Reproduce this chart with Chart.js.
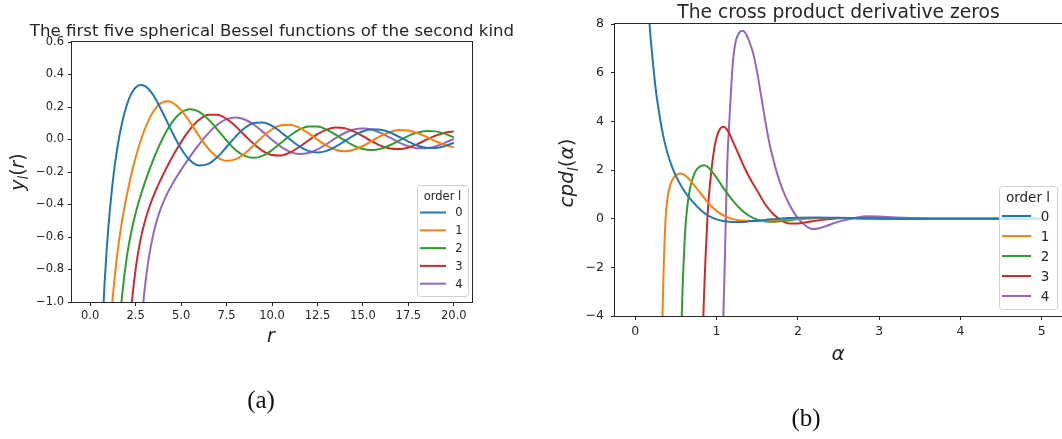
<!DOCTYPE html>
<html>
<head>
<meta charset="utf-8">
<title>Spherical Bessel functions</title>
<script src="https://cdn.jsdelivr.net/npm/chart.js@4.4.1/dist/chart.umd.min.js"></script>
<style>
  html, body { margin: 0; padding: 0; background: #fff; overflow: hidden; }
  body { width: 1062px; height: 439px; position: relative; }
  .panel { position: absolute; top: 0; height: 439px; }
  #leftPanel { left: 0; width: 544px; }
  #rightPanel { left: 540px; width: 597px; }
  .caption {
    position: absolute; transform: translate(-50%, -50%);
    font-family: "Liberation Serif", "DejaVu Serif", serif; font-size: 25px; color: #111;
  }
</style>
</head>
<body>
<div class="panel" id="leftPanel"><canvas id="besselChart"></canvas></div>
<div class="panel" id="rightPanel"><canvas id="cpdChart"></canvas></div>
<div class="caption" style="left:261px; top:400px">(a)</div>
<div class="caption" style="left:806px; top:418px">(b)</div>

<script>
const orders = ["0", "1", "2", "3", "4"];
const colors = ["#1f77b4", "#ff7f0e", "#2ca02c", "#d62728", "#9467bd"];

// Left panel: y_l(r)
const rTail = [6.5, 7.0, 7.5, 8.0, 8.5, 9.0, 9.5, 10.0, 10.5, 11.0, 11.5, 12.0, 12.5, 13.0,
  13.5, 14.0, 14.5, 15.0, 15.5, 16.0, 16.5, 17.0, 17.5, 18.0, 18.5, 19.0, 19.5, 20.0];

const rHead0 = [0.7, 0.75, 0.8, 0.9, 1.0, 1.25, 1.5, 1.75, 2.0, 2.25, 2.5, 2.75, 3.0, 3.25, 3.5, 4.0, 4.5, 5.0, 5.5, 6.0];
const y0 = [-1.093, -0.976, -0.871, -0.691, -0.540, -0.252, -0.047, 0.102, 0.208, 0.279, 0.320, 0.336, 0.330, 0.306, 0.268, 0.163, 0.047, -0.057, -0.129, -0.160,
  -0.150, -0.108, -0.046, 0.018, 0.071, 0.101, 0.105, 0.084, 0.045, 0.000, -0.042, -0.070, -0.080, -0.070,
  -0.044, -0.010, 0.025, 0.051, 0.063, 0.060, 0.043, 0.016, -0.013, -0.037, -0.051, -0.052, -0.041, -0.020];

const rHead1 = [1.0, 1.1, 1.25, 1.5, 1.75, 2.0, 2.25, 2.5, 2.75, 3.0, 3.25, 3.5, 3.75, 4.0, 4.25, 4.5, 5.0, 5.5, 6.0];
const y1 = [-1.382, -1.185, -0.961, -0.696, -0.504, -0.351, -0.222, -0.111, -0.017, 0.063, 0.127, 0.177, 0.211, 0.230, 0.235, 0.228, 0.181, 0.105, 0.020,
  -0.056, -0.109, -0.131, -0.121, -0.086, -0.035, 0.019, 0.063, 0.088, 0.091, 0.072, 0.039, -0.001, -0.038,
  -0.063, -0.072, -0.063, -0.040, -0.009, 0.022, 0.046, 0.058, 0.055, 0.040, 0.016, -0.011, -0.033, -0.047];

const rHead2 = [1.5, 1.6, 1.75, 2.0, 2.25, 2.5, 2.75, 3.0, 3.25, 3.5, 3.75, 4.0, 4.25, 4.5, 4.75, 5.0, 5.25, 5.5, 5.75, 6.0];
const y2 = [-1.346, -1.168, -0.966, -0.734, -0.575, -0.454, -0.354, -0.267, -0.188, -0.116, -0.050, 0.009, 0.061, 0.105, 0.140, 0.165, 0.181, 0.186, 0.182, 0.170,
  0.124, 0.061, -0.006, -0.064, -0.101, -0.113, -0.099, -0.065, -0.020, 0.025, 0.061, 0.080, 0.080, 0.061,
  0.030, -0.006, -0.038, -0.059, -0.065, -0.056, -0.034, -0.006, 0.022, 0.043, 0.053, 0.050, 0.036, 0.013];

const rHead3 = [2.0, 2.15, 2.3, 2.5, 2.75, 3.0, 3.25, 3.5, 3.75, 4.0, 4.25, 4.5, 4.75, 5.0, 5.25, 5.5, 5.75, 6.0];
const y3 = [-1.484, -1.200, -0.994, -0.796, -0.627, -0.508, -0.417, -0.343, -0.278, -0.219, -0.163, -0.111, -0.062, -0.016, 0.027, 0.064, 0.096, 0.122,
  0.152, 0.153, 0.127, 0.082, 0.026, -0.028, -0.071, -0.095, -0.098, -0.079, -0.046, -0.006, 0.033, 0.061,
  0.074, 0.070, 0.050, 0.021, -0.012, -0.039, -0.056, -0.059, -0.049, -0.028, -0.001, 0.024, 0.042, 0.050];

const rHead4 = [2.5, 2.75, 2.9, 3.0, 3.25, 3.5, 3.75, 4.0, 4.25, 4.5, 4.75, 5.0, 5.25, 5.5, 5.75, 6.0];
const y4 = [-1.776, -1.243, -1.030, -0.918, -0.710, -0.569, -0.468, -0.392, -0.330, -0.278, -0.231, -0.187, -0.145, -0.104, -0.065, -0.028,
  0.039, 0.092, 0.125, 0.135, 0.123, 0.091, 0.047, -0.002, -0.045, -0.076, -0.089, -0.083, -0.061, -0.028,
  0.008, 0.040, 0.062, 0.068, 0.060, 0.039, 0.011, -0.019, -0.041, -0.054, -0.054, -0.042, -0.021, 0.004];

// Right panel: cpd_l(alpha)
const a0 = [0.15, 0.175, 0.2, 0.25, 0.3, 0.35, 0.4, 0.45, 0.5, 0.6, 0.7, 0.8, 0.9, 1.0, 1.1, 1.2, 1.3, 1.4, 1.6, 1.8, 2.0, 2.2, 2.5, 2.8, 3.2, 4.0, 5.0];
const c0 = [9.5, 8.0, 7.0, 5.35, 4.2, 3.3, 2.65, 2.15, 1.75, 1.15, 0.72, 0.37, 0.12, -0.03, -0.11, -0.14, -0.14, -0.11, -0.05, 0.01, 0.04, 0.05, 0.04, 0.02, 0.0, 0.0, 0.0];

const a1 = [0.33, 0.34, 0.35, 0.36, 0.37, 0.38, 0.40, 0.43, 0.46, 0.50, 0.55, 0.60, 0.65, 0.70, 0.75, 0.80, 0.90, 1.00, 1.10, 1.20, 1.30, 1.45, 1.60, 1.80, 2.0, 2.3, 2.6, 3.0, 3.5, 5.0];
const c1 = [-4.6, -3.2, -1.9, -0.9, -0.15, 0.35, 0.95, 1.38, 1.62, 1.78, 1.86, 1.81, 1.67, 1.48, 1.27, 1.06, 0.64, 0.32, 0.11, -0.02, -0.08, -0.10, -0.08, -0.03, 0.01, 0.03, 0.02, 0.01, 0.0, 0.0];

const a2 = [0.565, 0.58, 0.60, 0.62, 0.64, 0.67, 0.70, 0.75, 0.80, 0.85, 0.90, 0.95, 1.00, 1.10, 1.20, 1.30, 1.40, 1.50, 1.60, 1.70, 1.85, 2.0, 2.2, 2.5, 2.8, 3.2, 5.0];
const c2 = [-4.8, -3.0, -1.4, -0.2, 0.5, 1.2, 1.6, 2.0, 2.16, 2.2, 2.1, 1.9, 1.68, 1.18, 0.74, 0.38, 0.12, -0.04, -0.12, -0.13, -0.08, -0.02, 0.02, 0.03, 0.01, 0.0, 0.0];

const a3 = [0.83, 0.845, 0.86, 0.875, 0.89, 0.91, 0.94, 0.97, 1.00, 1.04, 1.08, 1.12, 1.16, 1.20, 1.25, 1.30, 1.35, 1.40, 1.45, 1.50, 1.60, 1.70, 1.80, 1.90, 2.00, 2.10, 2.25, 2.40, 2.60, 2.80, 3.20, 3.60, 5.0];
const c3 = [-4.8, -3.2, -1.9, -0.8, 0.2, 1.1, 2.1, 2.85, 3.35, 3.68, 3.78, 3.70, 3.48, 3.18, 2.80, 2.42, 2.05, 1.72, 1.42, 1.15, 0.58, 0.18, -0.08, -0.20, -0.20, -0.15, -0.07, -0.01, 0.03, 0.03, 0.01, 0.0, 0.0];

const a4 = [1.075, 1.09, 1.10, 1.11, 1.12, 1.135, 1.15, 1.17, 1.20, 1.23, 1.27, 1.32, 1.36, 1.40, 1.45, 1.50, 1.55, 1.60, 1.65, 1.70, 1.75, 1.80, 1.90, 2.00, 2.10, 2.17, 2.25, 2.35, 2.45, 2.55, 2.70, 2.85, 3.00, 3.20, 3.50, 4.00, 5.0];
const c4 = [-5.0, -3.2, -1.9, -0.5, 0.9, 2.6, 3.6, 4.8, 6.4, 7.2, 7.6, 7.72, 7.6, 7.3, 6.8, 6.0, 5.0, 4.0, 3.1, 2.4, 1.8, 1.3, 0.55, 0.02, -0.3, -0.42, -0.4, -0.3, -0.18, -0.08, 0.03, 0.1, 0.09, 0.05, 0.01, 0.0, 0.0];

const INK = "#262626";
const FONT = "DejaVu Sans";

function points(xs, ys) {
  return xs.map((x, i) => ({ x: x, y: ys[i] }));
}

function makeDatasets(xLists, yLists, width) {
  return orders.map((label, i) => ({
    label: label,
    data: points(xLists[i], yLists[i]),
    borderColor: colors[i],
    backgroundColor: colors[i],
    borderWidth: width,
    pointRadius: 0,
    fill: false,
    cubicInterpolationMode: "monotone"
  }));
}

function minusSign(v, digits) {
  let s = Math.abs(v) < 1e-9 ? (0).toFixed(digits) : v.toFixed(digits);
  return s.replace("-", "\u2212");
}

function linearAxis(min, max, step, fitSize, isX, fontSize, digits, pad) {
  return {
    type: "linear",
    min: min,
    max: max,
    afterFit: s => { if (isX) s.height = fitSize; else s.width = fitSize; },
    border: { display: false },
    grid: { display: true, drawOnChartArea: false, drawTicks: true, tickLength: 4, tickColor: INK, tickWidth: 1 },
    ticks: {
      stepSize: step,
      includeBounds: false,
      autoSkip: false,
      maxRotation: 0,
      padding: pad,
      color: INK,
      font: { family: FONT, size: fontSize },
      callback: v => minusSign(v, digits)
    }
  };
}

// draw "y_l(r)" style labels: parts with italic / subscript flags
function drawMath(ctx, parts, size, cx, cy, rotate) {
  const fontOf = p => `${p.it ? "italic " : ""}${p.sub ? size * 0.7 : size}px "${FONT}"`;
  let total = 0;
  parts.forEach(p => { ctx.font = fontOf(p); p.w = ctx.measureText(p.t).width; total += p.w; });
  ctx.save();
  ctx.translate(cx, cy);
  if (rotate) ctx.rotate(-Math.PI / 2);
  ctx.fillStyle = INK;
  ctx.textBaseline = "alphabetic";
  ctx.textAlign = "left";
  let x = -total / 2;
  const base = size * 0.32;
  parts.forEach(p => {
    ctx.font = fontOf(p);
    ctx.fillText(p.t, x, p.sub ? base + size * 0.22 : base);
    x += p.w;
  });
  ctx.restore();
}

function drawLegend(chart, o) {
  const ctx = chart.ctx, a = chart.chartArea;
  const x = a.right - o.padR - o.w, y = a.bottom - o.padB - o.h;
  ctx.save();
  ctx.beginPath();
  ctx.roundRect(x + 0.5, y + 0.5, o.w, o.h, 3);
  ctx.fillStyle = "rgba(255,255,255,0.8)";
  ctx.fill();
  ctx.strokeStyle = "#d0d0d0";
  ctx.lineWidth = 1;
  ctx.stroke();
  ctx.font = `${o.size}px "${FONT}"`;
  ctx.textBaseline = "middle";
  ctx.textAlign = "center";
  ctx.fillStyle = INK;
  ctx.fillText(o.title, x + o.w / 2, y + o.titleY);
  chart.data.datasets.forEach((ds, i) => {
    const yy = y + o.firstY + i * o.rowH;
    ctx.strokeStyle = ds.borderColor;
    ctx.lineWidth = 2;
    ctx.beginPath();
    ctx.moveTo(x + o.h1, yy);
    ctx.lineTo(x + o.h2, yy);
    ctx.stroke();
    ctx.fillText(ds.label, x + o.textX, yy + 1);
  });
  ctx.restore();
}

const decorPlugin = {
  id: "decor",
  afterDatasetsDraw(chart, args, o) {
    const ctx = chart.ctx, a = chart.chartArea;
    ctx.save();
    ctx.strokeStyle = INK;
    ctx.lineWidth = 1;
    ctx.strokeRect(Math.round(a.left) - 0.5, Math.round(a.top) - 0.5, Math.round(a.right - a.left) + 1, Math.round(a.bottom - a.top) + 1);
    ctx.fillStyle = INK;
    ctx.font = `${o.title.size}px "${FONT}"`;
    ctx.textAlign = "center";
    ctx.textBaseline = "alphabetic";
    ctx.fillText(o.title.text, (a.left + a.right) / 2, o.title.baseline);
    ctx.restore();
    drawMath(ctx, o.ylabel.parts, o.ylabel.size, o.ylabel.x, o.ylabel.y, true);
    drawMath(ctx, o.xlabel.parts, o.xlabel.size, o.xlabel.x, o.xlabel.y, false);
    drawLegend(chart, o.legend);
  }
};

function makeChart(id, datasets, scales, padding, decor) {
  return new Chart(document.getElementById(id).getContext("2d"), {
    type: "line",
    data: { datasets: datasets },
    options: {
      responsive: true,
      maintainAspectRatio: false,
      animation: false,
      events: [],
      layout: { padding: padding },
      scales: scales,
      plugins: { legend: { display: false }, tooltip: { enabled: false }, decor: decor }
    },
    plugins: [decorPlugin]
  });
}

// Left chart
makeChart("besselChart",
  makeDatasets(
    [rHead0.concat(rTail), rHead1.concat(rTail), rHead2.concat(rTail), rHead3.concat(rTail), rHead4.concat(rTail)],
    [y0, y1, y2, y3, y4], 2),
  {
    x: linearAxis(-1, 21, 2.5, 137, true, 11.5, 1, 3),
    y: linearAxis(-1, 0.6, 0.2, 72, false, 11.5, 1, 4)
  },
  { top: 42, right: 72, left: 0, bottom: 0 },
  {
    title: { text: "The first five spherical Bessel functions of the second kind", size: 16.6, baseline: 35.5 },
    ylabel: { parts: [{ t: "y", it: true }, { t: "l", it: true, sub: true }, { t: "(" }, { t: "r", it: true }, { t: ")" }], size: 19, x: 18, y: 172 },
    xlabel: { parts: [{ t: "r", it: true }], size: 19, x: 271, y: 336 },
    legend: { title: "order l", size: 11.5, w: 51, h: 111, padR: 4, padB: 6, titleY: 12, firstY: 27.5, rowH: 17.8, h1: 3, h2: 29, textX: 42 }
  });

// Right chart
makeChart("cpdChart",
  makeDatasets([a0, a1, a2, a3, a4], [c0, c1, c2, c3, c4], 2),
  {
    x: linearAxis(-0.25, 5.25, 1, 123, true, 12.5, 0, 4),
    y: linearAxis(-4, 8, 2, 75, false, 12.5, 0, 7)
  },
  { top: 24, right: 75, left: 0, bottom: 0 },
  {
    title: { text: "The cross product derivative zeros", size: 18.7, baseline: 17.6 },
    ylabel: { parts: [{ t: "cpd", it: true }, { t: "l", it: true, sub: true }, { t: "(" }, { t: "\u03b1", it: true }, { t: ")" }], size: 20, x: 27, y: 173 },
    xlabel: { parts: [{ t: "\u03b1", it: true }], size: 20, x: 298, y: 354 },
    legend: { title: "order l", size: 13.5, w: 58, h: 123, padR: 5, padB: 7, titleY: 12.5, firstY: 30, rowH: 20, h1: 3, h2: 32, textX: 46 }
  });
</script>
</body>
</html>
